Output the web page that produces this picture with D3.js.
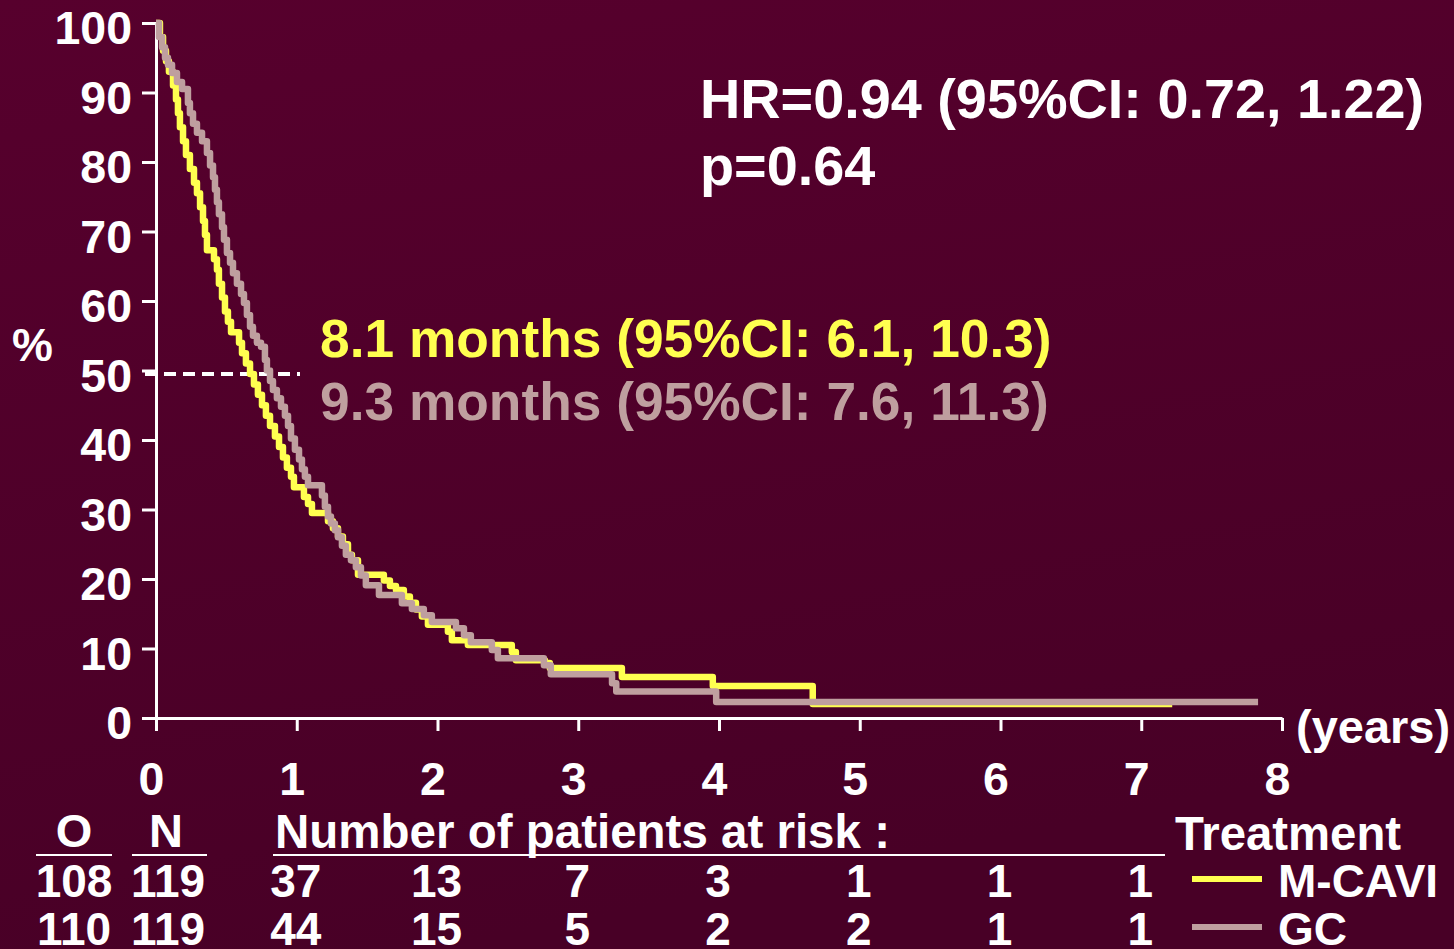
<!DOCTYPE html>
<html>
<head>
<meta charset="utf-8">
<script src="https://cdn.jsdelivr.net/npm/d3@7"></script>
<style>
body { margin: 0; background: #4e0029; }
text { font-family: "Liberation Sans", Arial, sans-serif; font-weight: bold; }
</style>
</head>
<body>
<div id="divChart"></div>
<script>
// survival steps [years, %]
var mcaviSteps = [
    [0, 100], [0.028, 98], [0.05, 96], [0.071, 94.5], [0.092, 93], [0.121, 91],
    [0.142, 89], [0.156, 87], [0.17, 85], [0.192, 83], [0.213, 81], [0.241, 79],
    [0.27, 77], [0.291, 75.5], [0.313, 73.5], [0.334, 71.5], [0.348, 69.5], [0.362, 67.3],
    [0.412, 66], [0.433, 64.5], [0.447, 62.5], [0.469, 60.5], [0.49, 58.5], [0.511, 57],
    [0.533, 55.5], [0.59, 54], [0.611, 52.5], [0.639, 51], [0.668, 49.5], [0.696, 48],
    [0.724, 46.5], [0.753, 45], [0.781, 43.5], [0.81, 42], [0.845, 40.5], [0.874, 39],
    [0.902, 37.5], [0.93, 36], [0.959, 34.7], [0.98, 33.2], [1.051, 31.8], [1.08, 30.8],
    [1.108, 29.5], [1.222, 28.3], [1.257, 27.3], [1.293, 26.1], [1.328, 25], [1.364, 23.5],
    [1.392, 22.7], [1.435, 20.6], [1.619, 19.8], [1.662, 19], [1.705, 18.4], [1.761, 17.5],
    [1.804, 16.6], [1.847, 15.6], [1.889, 14.6], [1.932, 13.4], [2.074, 12.4], [2.102, 11.2],
    [2.216, 10.5], [2.528, 9.5], [2.557, 8.3], [2.763, 7.9], [2.798, 7.2], [3.31, 5.9],
    [3.956, 4.6], [4.666, 2.0], [7.22, 2.0]
];
var gcSteps = [
    [0, 100], [0.021, 98], [0.043, 96.5], [0.064, 95], [0.085, 94], [0.114, 92.8],
    [0.149, 91.5], [0.185, 90.5], [0.227, 88.5], [0.241, 87], [0.263, 85.5], [0.291, 84.2],
    [0.327, 83], [0.362, 81.3], [0.384, 79.5], [0.405, 77.8], [0.419, 76], [0.433, 74.2],
    [0.447, 72.5], [0.469, 70.6], [0.483, 68.8], [0.504, 66.9], [0.526, 65.5], [0.547, 64],
    [0.575, 62.5], [0.604, 61], [0.625, 59.7], [0.646, 58], [0.668, 56.3], [0.689, 55],
    [0.717, 54], [0.746, 53.4], [0.774, 51.5], [0.788, 50], [0.81, 48.5], [0.831, 47.2],
    [0.859, 46], [0.888, 44.8], [0.916, 43.5], [0.938, 42], [0.959, 40.2], [0.987, 38.6],
    [1.016, 37.2], [1.037, 35.8], [1.058, 34.7], [1.08, 33.5], [1.179, 32], [1.2, 30.4],
    [1.222, 29], [1.243, 28], [1.271, 27], [1.293, 26], [1.321, 24.8], [1.349, 23.5],
    [1.385, 22.7], [1.42, 21.7], [1.456, 20.5], [1.491, 19.1], [1.584, 17.7], [1.747, 16.5],
    [1.818, 15.7], [1.903, 14.8], [1.96, 13.8], [2.131, 12.9], [2.188, 11.9], [2.237, 10.9],
    [2.386, 9.8], [2.429, 8.6], [2.756, 7.6], [2.805, 6.3], [3.24, 5.0], [3.27, 3.8],
    [3.98, 2.3], [7.83, 2.3]
];

var yearTicks = [0, 1, 2, 3, 4, 5, 6, 7, 8];
var pctTicks = [0, 10, 20, 30, 40, 50, 60, 70, 80, 90, 100];

var groups = ["M-CAVI", "GC"];
var groupColors = ["#ffff50", "#bf9f9f"];
var observed = [108, 110];
var patients = [119, 119];
var riskYears = [1, 2, 3, 4, 5, 6, 7];
var riskMcavi = [37, 13, 7, 3, 1, 1, 1];
var riskGc = [44, 15, 5, 2, 2, 1, 1];

var medianLabels = ["8.1 months (95%CI: 6.1, 10.3)", "9.3 months (95%CI: 7.6, 11.3)"];
var statLabels = ["HR=0.94 (95%CI: 0.72, 1.22)", "p=0.64"];

var width = 1454,
    height = 949;

var svg = d3.select("#divChart").append("svg")
    .attr("width", width)
    .attr("height", height);

var grad = svg.append("defs").append("linearGradient")
    .attr("id", "bg")
    .attr("x1", 0).attr("y1", 0).attr("x2", 0.3).attr("y2", 1);
grad.append("stop").attr("offset", "0%").attr("stop-color", "#57002d");
grad.append("stop").attr("offset", "100%").attr("stop-color", "#480026");
svg.append("rect").attr("width", width).attr("height", height).attr("fill", "url(#bg)");

var x = d3.scaleLinear().domain([0, 8]).range([156, 1282]);
var y = d3.scaleLinear().domain([0, 100]).range([718, 23]);

// y axis
var yAxis = svg.append("g")
    .attr("transform", "translate(" + x(0) + ",0)")
    .call(d3.axisLeft(y).tickValues(pctTicks).tickSize(14).tickSizeOuter(0).tickPadding(10));
yAxis.selectAll("text").attr("font-size", 46.5).attr("dy", "0.45em");

// x axis
var xAxis = svg.append("g")
    .attr("transform", "translate(0," + y(0) + ")")
    .call(d3.axisBottom(x).tickValues(yearTicks).tickSize(13).tickSizeOuter(0).tickPadding(31));
xAxis.selectAll("text").attr("font-size", 46.5).attr("dx", -5);

svg.selectAll(".domain, .tick line").attr("stroke", "white").attr("stroke-width", 3);
svg.selectAll(".tick text").attr("fill", "white")
    .style("font-family", "'Liberation Sans', Arial, sans-serif").style("font-weight", "bold");

svg.append("text").attr("x", 12).attr("y", 361).attr("font-size", 46).attr("fill", "white").text("%");
svg.append("text").attr("x", 1296).attr("y", 743).attr("font-size", 47).attr("fill", "white").text("(years)");

// median guide
svg.append("line")
    .attr("x1", 145).attr("x2", 300)
    .attr("y1", y(49.5)).attr("y2", y(49.5))
    .attr("stroke", "white").attr("stroke-width", 4)
    .attr("stroke-dasharray", "12,7");

// curves
var line = d3.line()
    .x(function(d) { return x(d[0]); })
    .y(function(d) { return y(d[1]); })
    .curve(d3.curveStepAfter);

svg.selectAll(".km").data([mcaviSteps, gcSteps]).enter().append("path")
    .attr("class", "km")
    .attr("d", line)
    .attr("fill", "none")
    .attr("stroke", function(d, i) { return groupColors[i]; })
    .attr("stroke-width", 6.5)
    .attr("stroke-linejoin", "round");

// annotations
svg.selectAll(".stat").data(statLabels).enter().append("text")
    .attr("class", "stat")
    .attr("x", 700)
    .attr("y", function(d, i) { return 118 + 67 * i; })
    .attr("font-size", 55.8)
    .attr("fill", "white")
    .text(function(d) { return d; });

svg.selectAll(".med").data(medianLabels).enter().append("text")
    .attr("class", "med")
    .attr("x", 320)
    .attr("y", function(d, i) { return 357 + 63 * i; })
    .attr("font-size", 53.3)
    .attr("fill", function(d, i) { return groupColors[i]; })
    .text(function(d) { return d; });

// table header
svg.append("text").attr("x", 74).attr("y", 847).attr("text-anchor", "middle")
    .attr("font-size", 47).attr("fill", "white").text("O");
svg.append("text").attr("x", 166).attr("y", 847).attr("text-anchor", "middle")
    .attr("font-size", 47).attr("fill", "white").text("N");
svg.append("text").attr("x", 275).attr("y", 848)
    .attr("font-size", 47.5).attr("fill", "white").text("Number of patients at risk :");
svg.append("text").attr("x", 1175).attr("y", 850)
    .attr("font-size", 47.3).attr("fill", "white").text("Treatment");

var rules = [[36, 112], [132, 207], [273, 1165]];
svg.selectAll(".rule").data(rules).enter().append("line")
    .attr("class", "rule")
    .attr("x1", function(d) { return d[0]; })
    .attr("x2", function(d) { return d[1]; })
    .attr("y1", 855).attr("y2", 855)
    .attr("stroke", "white").attr("stroke-width", 2);

// table rows
var risks = [riskMcavi, riskGc];
groups.forEach(function(g, i) {
    var rowY = 897 + 48 * i;
    svg.append("text").attr("x", 74).attr("y", rowY).attr("text-anchor", "middle")
        .attr("font-size", 46).attr("fill", "white").text(observed[i]);
    svg.append("text").attr("x", 168).attr("y", rowY).attr("text-anchor", "middle")
        .attr("font-size", 46).attr("fill", "white").text(patients[i]);
    svg.selectAll(".risk" + i).data(risks[i]).enter().append("text")
        .attr("class", "risk" + i)
        .attr("x", function(d, j) { return x(riskYears[j]) - 1; })
        .attr("y", rowY)
        .attr("text-anchor", "middle")
        .attr("font-size", 46)
        .attr("fill", "white")
        .text(function(d) { return d; });
    svg.append("line")
        .attr("x1", 1192).attr("x2", 1262)
        .attr("y1", rowY - 18).attr("y2", rowY - 18)
        .attr("stroke", groupColors[i]).attr("stroke-width", 6);
    svg.append("text").attr("x", 1278).attr("y", rowY)
        .attr("font-size", 46).attr("fill", "white").text(g);
});
</script>
</body>
</html>
